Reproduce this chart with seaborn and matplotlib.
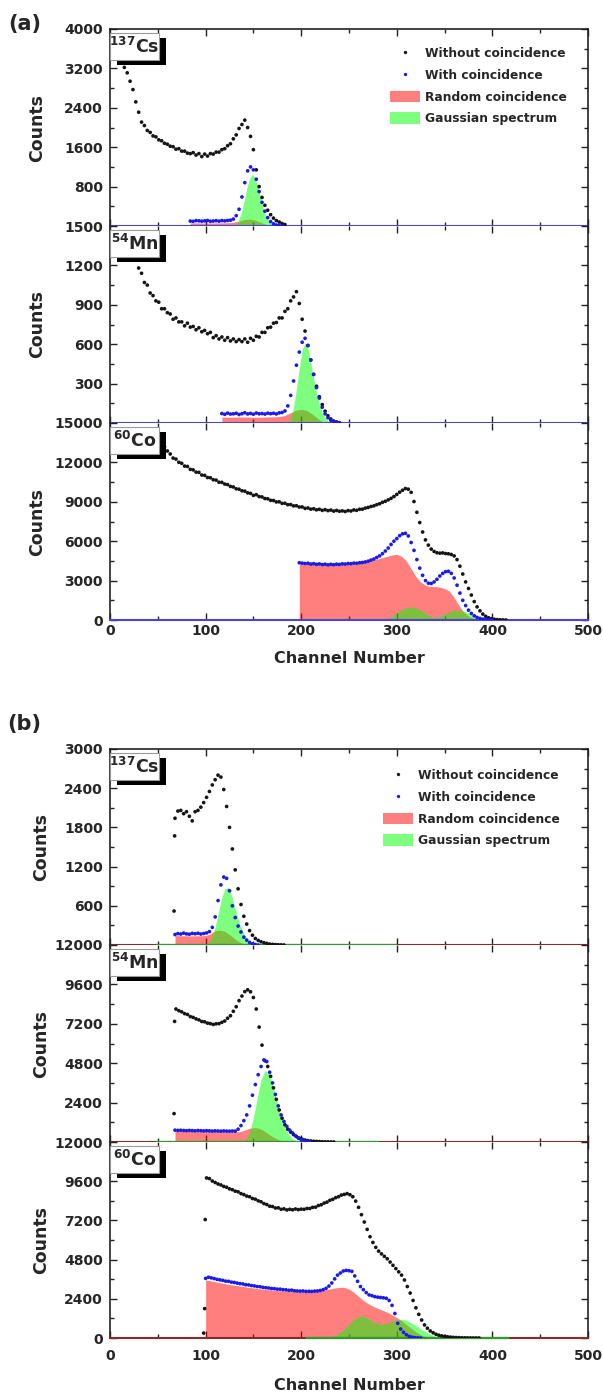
import numpy as np
import pandas as pd
import matplotlib
matplotlib.use("Agg")
import matplotlib.pyplot as plt
import seaborn as sns
from matplotlib.patches import Rectangle, Patch
from matplotlib.lines import Line2D
from matplotlib.ticker import MultipleLocator, FuncFormatter

# ------------------------------------------------------------------ data
STEP = 3  # channel spacing of the dotted spectra

# ---- (a) 137Cs
a_cs_without_start = 9
a_cs_without = [3420, 3360, 3220, 3110, 2940, 2770, 2520, 2310, 2110, 2040, 1940, 1900, 1830, 1810,
                1750, 1730, 1680, 1660, 1620, 1610, 1560, 1570, 1520, 1520, 1480, 1470, 1490, 1440,
                1470, 1410, 1460, 1420, 1470, 1460, 1500, 1500, 1550, 1570, 1630, 1670, 1770, 1850,
                1980, 2060, 2150, 2000, 1820, 1550, 1140, 800, 580, 420, 320, 230, 160, 110, 80, 50, 30]
a_cs_with_start = 84
a_cs_with = [100, 95, 110, 105, 98, 104, 112, 96, 101, 108, 99, 110, 104, 112, 118, 140, 210, 340,
             590, 880, 1120, 1200, 1140, 950, 700, 480, 300, 170, 90, 45, 20, 8, 0]
a_cs_random_x = [84, 90, 100, 110, 120, 128, 135, 140, 145, 150, 155, 160, 165, 170]
a_cs_random = [65, 62, 60, 62, 64, 70, 100, 130, 140, 130, 95, 55, 20, 0]
a_cs_gauss_x = [128, 131, 134, 137, 140, 143, 146, 149, 152, 155, 158, 161, 164, 167, 170, 173, 176]
a_cs_gauss = [0, 30, 100, 250, 480, 760, 970, 1050, 960, 760, 520, 310, 160, 70, 25, 5, 0]

# ---- (a) 54Mn
a_mn_without_start = 24
a_mn_without = [1310, 1250, 1180, 1140, 1070, 1050, 990, 970, 930, 920, 870, 870, 840, 830, 790, 800,
                770, 770, 740, 760, 730, 735, 710, 725, 695, 705, 680, 690, 650, 665, 640, 655, 630,
                650, 625, 640, 620, 635, 620, 640, 615, 645, 630, 660, 655, 690, 690, 725, 730, 760,
                765, 800, 800, 850, 870, 930, 960, 1000, 910, 790, 700, 590, 480, 370, 280, 200, 140,
                90, 55, 30, 15, 8, 3]
a_mn_with_start = 117
a_mn_with = [72, 66, 75, 68, 70, 74, 65, 71, 78, 69, 73, 67, 76, 70, 72, 68, 75, 71, 74, 69, 77, 80,
             92, 130, 210, 320, 440, 540, 615, 645, 590, 480, 370, 270, 190, 120, 70, 40, 20, 10, 3, 0]
a_mn_random_x = [117, 125, 135, 145, 155, 165, 175, 182, 188, 194, 200, 206, 212, 218, 224]
a_mn_random = [45, 44, 46, 45, 44, 46, 48, 55, 75, 95, 105, 95, 65, 30, 0]
a_mn_gauss_x = [186, 189, 192, 195, 198, 201, 204, 207, 210, 213, 216, 219, 222, 225, 228, 231, 234]
a_mn_gauss = [0, 40, 120, 260, 420, 560, 610, 570, 460, 340, 230, 140, 80, 40, 15, 5, 0]

# ---- (a) 60Co
a_co_without_start = 45
a_co_without = [14100, 13880, 13700, 13380, 13190, 12870, 12640, 12330, 12250, 12010, 11930, 11720,
                11690, 11470, 11430, 11260, 11240, 11040, 11010, 10850, 10830, 10680, 10650, 10490,
                10480, 10350, 10310, 10170, 10130, 9990, 9960, 9840, 9810, 9680, 9640, 9490, 9540,
                9400, 9370, 9250, 9230, 9110, 9100, 8990, 9000, 8880, 8890, 8780, 8790, 8690, 8700,
                8600, 8610, 8500, 8530, 8440, 8470, 8390, 8430, 8350, 8400, 8330, 8370, 8290, 8340,
                8280, 8310, 8260, 8330, 8300, 8380, 8350, 8430, 8440, 8520, 8570, 8640, 8690, 8780,
                8850, 8960, 9040, 9150, 9260, 9400, 9560, 9730, 9880, 10010, 9960, 9720, 9020, 8200,
                7420, 6700, 6100, 5700, 5400, 5220, 5120, 5090, 5110, 5060, 5040, 4990, 4880, 4600,
                4100, 3500, 2900, 2400, 1900, 1400, 1000, 700, 450, 280, 170, 100, 60, 30, 15, 5, 0]
a_co_with_start = 198
a_co_with = [4360, 4330, 4300, 4320, 4260, 4290, 4240, 4270, 4220, 4250, 4200, 4240, 4210, 4250,
             4230, 4280, 4260, 4300, 4290, 4330, 4320, 4360, 4380, 4420, 4480, 4560, 4640, 4760,
             4880, 5050, 5250, 5480, 5750, 6000, 6200, 6420, 6560, 6600, 6400, 5900, 5300, 4600,
             3950, 3400, 3000, 2800, 2780, 2900, 3100, 3350, 3550, 3680, 3710, 3550, 3200, 2650,
             2050, 1500, 1100, 750, 500, 320, 200, 120, 70, 35, 15, 5]
a_co_random_x = [198, 205, 210, 215, 220, 225, 230, 235, 240, 245, 250, 255, 260, 265, 270, 275, 280,
                 285, 290, 295, 300, 305, 310, 315, 320, 325, 330, 335, 340, 345, 350, 355, 360, 365,
                 370, 375, 380, 385, 390]
a_co_random = [4300, 4280, 4250, 4230, 4200, 4200, 4200, 4220, 4250, 4280, 4300, 4320, 4350, 4400,
               4480, 4560, 4650, 4750, 4850, 4950, 5000, 4850, 4500, 3900, 3300, 2900, 2650, 2560,
               2550, 2500, 2400, 2200, 1700, 1100, 600, 300, 120, 40, 0]
a_co_gauss_x = [280, 285, 290, 295, 300, 305, 310, 315, 320, 325, 330, 335, 340, 345, 350, 355, 360,
                365, 370, 375, 380, 385, 390, 395, 400]
a_co_gauss = [0, 30, 120, 300, 550, 800, 950, 1000, 930, 750, 520, 300, 170, 280, 470, 640, 730, 750,
              680, 520, 330, 170, 70, 20, 0]

# ---- (b) 137Cs
b_cs_edge_x = [67, 67.6]
b_cs_edge = [520, 1670]
b_cs_without_start = 68
b_cs_without = [1940, 2050, 2060, 2010, 2040, 1970, 1900, 2040, 2060, 2110, 2180, 2260, 2350, 2450,
                2530, 2600, 2570, 2380, 2120, 1800, 1470, 1150, 860, 620, 440, 320, 220, 150, 100, 70,
                50, 35, 25, 15, 10, 6, 4, 2, 0]
b_cs_with_start = 68
b_cs_with = [160, 175, 168, 182, 170, 165, 178, 172, 180, 168, 176, 185, 205, 270, 430, 680, 920, 1040,
             1020, 830, 600, 420, 290, 200, 120, 75, 40, 18, 8, 0]
b_cs_random_x = [68, 75, 85, 95, 100, 105, 110, 115, 120, 125, 130, 135, 140, 145]
b_cs_random = [145, 142, 140, 142, 145, 170, 220, 230, 210, 160, 100, 50, 15, 0]
b_cs_gauss_x = [100, 104, 108, 112, 116, 120, 124, 128, 132, 136, 140, 144, 148, 152, 156]
b_cs_gauss = [0, 50, 170, 400, 680, 860, 880, 720, 500, 310, 170, 80, 30, 8, 0]
b_cs_gauss_span = [48, 300]

# ---- (b) 54Mn
b_mn_edge_x = [67, 67.6]
b_mn_edge = [1730, 7345]
b_mn_without_start = 69
b_mn_without = [8100, 8000, 7930, 7820, 7770, 7640, 7590, 7500, 7440, 7340, 7320, 7240, 7210, 7160,
                7200, 7210, 7290, 7370, 7540, 7690, 7960, 8240, 8610, 8890, 9160, 9270, 9150, 8800,
                8100, 7000, 5900, 4950, 4600, 4000, 3300, 2600, 1950, 1450, 1050, 780, 600, 450, 330,
                240, 170, 120, 85, 60, 45, 35, 25, 18, 12, 8, 4, 0]
b_mn_with_start = 68
b_mn_with = [720, 705, 715, 700, 690, 705, 695, 680, 700, 690, 675, 690, 680, 665, 680, 670, 660, 675,
             665, 660, 670, 660, 780, 1000, 1300, 1650, 2200, 2850, 3500, 4100, 4600, 5000, 4900,
             4250, 3600, 2900, 2200, 1650, 1250, 950, 720, 550, 380, 230, 130, 60, 20, 0]
b_mn_random_x = [68, 80, 95, 110, 125, 135, 140, 145, 150, 155, 160, 165, 170, 175, 180, 185, 190]
b_mn_random = [650, 645, 640, 635, 625, 620, 700, 820, 880, 850, 720, 520, 330, 180, 80, 20, 0]
b_mn_gauss_x = [138, 142, 146, 150, 154, 158, 162, 166, 170, 174, 178, 182, 186, 190, 194, 198, 202]
b_mn_gauss = [0, 150, 600, 1500, 2700, 3800, 4350, 4200, 3500, 2600, 1700, 1000, 550, 250, 100, 30, 0]
b_mn_gauss_span = [48, 281]

# ---- (b) 60Co
b_co_edge_x = [98, 99, 99.6]
b_co_edge = [300, 1800, 7250]
b_co_without_start = 101
b_co_without = [9800, 9760, 9610, 9520, 9430, 9370, 9280, 9230, 9130, 9080, 8990, 8950, 8840, 8780,
                8690, 8650, 8540, 8500, 8400, 8340, 8230, 8170, 8070, 8050, 7960, 7970, 7880, 7910,
                7840, 7880, 7850, 7900, 7860, 7890, 7880, 7930, 7930, 8000, 8010, 8110, 8160, 8260,
                8320, 8430, 8490, 8590, 8650, 8750, 8790, 8840, 8770, 8650, 8380, 8000, 7550, 7100,
                6650, 6200, 5850, 5550, 5320, 5150, 5000, 4850, 4650, 4450, 4250, 4050, 3850, 3550,
                3150, 2750, 2300, 1850, 1450, 1100, 800, 600, 430, 320, 230, 170, 130, 100, 75, 55,
                40, 30, 22, 15, 10, 7, 5, 3, 2, 0]
b_co_with_start = 100
b_co_with = [3650, 3720, 3680, 3640, 3590, 3560, 3530, 3480, 3470, 3420, 3400, 3360, 3330, 3310, 3260,
             3250, 3210, 3190, 3150, 3140, 3100, 3080, 3060, 3030, 3020, 2990, 2990, 2960, 2950,
             2920, 2930, 2890, 2880, 2870, 2880, 2850, 2860, 2850, 2870, 2880, 2910, 2960, 3040,
             3180, 3370, 3620, 3850, 3980, 4100, 4140, 4120, 4080, 3800, 3470, 3150, 2960, 2780,
             2640, 2590, 2530, 2500, 2480, 2460, 2430, 2300, 2000, 1500, 900, 550, 350, 200, 100,
             50, 20, 8, 0]
b_co_random_x = [100, 105, 110, 115, 120, 125, 130, 135, 140, 145, 150, 155, 160, 165, 170, 175, 180,
                 185, 190, 195, 200, 205, 210, 215, 220, 225, 230, 235, 240, 245, 250, 255, 260, 265,
                 270, 275, 280, 285, 290, 295, 300, 305, 310, 315, 320, 325, 330, 335, 340]
b_co_random = [3550, 3500, 3440, 3380, 3330, 3280, 3230, 3190, 3150, 3100, 3060, 3020, 2990, 2960,
               2930, 2910, 2890, 2870, 2850, 2840, 2830, 2830, 2840, 2860, 2900, 2950, 3000, 3060,
               3100, 3100, 3000, 2800, 2550, 2300, 2100, 1950, 1820, 1700, 1580, 1420, 1250, 1050,
               820, 600, 380, 200, 80, 20, 0]
b_co_gauss_x = [220, 225, 230, 235, 240, 245, 250, 255, 260, 265, 270, 275, 280, 285, 290, 295, 300,
                305, 310, 315, 320, 325, 330, 335, 340, 345, 350, 355]
b_co_gauss = [0, 20, 60, 150, 300, 550, 850, 1150, 1330, 1350, 1200, 1000, 880, 850, 900, 1030, 1130,
              1150, 1080, 930, 750, 560, 380, 230, 120, 50, 15, 0]
b_co_gauss_span = [205, 417]

legend_labels = ["Without coincidence", "With coincidence", "Random coincidence", "Gaussian spectrum"]

# ------------------------------------------------------------------ style
sns.set_theme(style="ticks")
plt.rcParams["font.family"] = ["DejaVu Sans"]
plt.rcParams["font.weight"] = "bold"
plt.rcParams["axes.labelweight"] = "bold"
plt.rcParams["mathtext.fontset"] = "custom"
plt.rcParams["mathtext.rm"] = "DejaVu Sans:bold"
plt.rcParams["mathtext.bf"] = "DejaVu Sans:bold"

C_WITHOUT = "#151515"
C_WITH = "#1a1aee"
C_RED = (1.0, 0.0, 0.0, 0.5)
C_GREEN = (0.0, 1.0, 0.0, 0.5)

W, H = 603, 1396
fig = plt.figure(figsize=(W / 100, H / 100), dpi=100, facecolor="white")

panels = [
    dict(g="a", rows=(29, 226), ymax=4000, ymaj=800, iso="137", el="Cs", legend=True, bottom=False,
         wo=(a_cs_without_start, a_cs_without, [], []), wi=(a_cs_with_start, a_cs_with),
         rnd=(a_cs_random_x, a_cs_random), gau=(a_cs_gauss_x, a_cs_gauss), span=None),
    dict(g="a", rows=(226, 423), ymax=1500, ymaj=300, iso="54", el="Mn", legend=False, bottom=False,
         wo=(a_mn_without_start, a_mn_without, [], []), wi=(a_mn_with_start, a_mn_with),
         rnd=(a_mn_random_x, a_mn_random), gau=(a_mn_gauss_x, a_mn_gauss), span=None),
    dict(g="a", rows=(423, 620), ymax=15000, ymaj=3000, iso="60", el="Co", legend=False, bottom=True,
         wo=(a_co_without_start, a_co_without, [], []), wi=(a_co_with_start, a_co_with),
         rnd=(a_co_random_x, a_co_random), gau=(a_co_gauss_x, a_co_gauss), span=None),
    dict(g="b", rows=(749, 945), ymax=3000, ymaj=600, iso="137", el="Cs", legend=True, bottom=False,
         wo=(b_cs_without_start, b_cs_without, b_cs_edge_x, b_cs_edge), wi=(b_cs_with_start, b_cs_with),
         rnd=(b_cs_random_x, b_cs_random), gau=(b_cs_gauss_x, b_cs_gauss), span=b_cs_gauss_span),
    dict(g="b", rows=(945, 1142), ymax=12000, ymaj=2400, iso="54", el="Mn", legend=False, bottom=False,
         wo=(b_mn_without_start, b_mn_without, b_mn_edge_x, b_mn_edge), wi=(b_mn_with_start, b_mn_with),
         rnd=(b_mn_random_x, b_mn_random), gau=(b_mn_gauss_x, b_mn_gauss), span=b_mn_gauss_span),
    dict(g="b", rows=(1142, 1338), ymax=12000, ymaj=2400, iso="60", el="Co", legend=False, bottom=True,
         wo=(b_co_without_start, b_co_without, b_co_edge_x, b_co_edge), wi=(b_co_with_start, b_co_with),
         rnd=(b_co_random_x, b_co_random), gau=(b_co_gauss_x, b_co_gauss), span=b_co_gauss_span),
]

X0, X1 = 110, 588
for p in panels:
    yt, yb = p["rows"]
    ax = fig.add_axes([X0 / W, 1 - yb / H, (X1 - X0) / W, (yb - yt) / H])
    ax.set_facecolor("white")

    # areas
    ax.fill_between(p["rnd"][0], 0, p["rnd"][1], color=C_RED, lw=0, zorder=1)
    ax.fill_between(p["gau"][0], 0, p["gau"][1], color=C_GREEN, lw=0, zorder=1.5)

    # dots
    s0, vals, ex, ey = p["wo"]
    xw = np.concatenate([np.asarray(ex, float), s0 + STEP * np.arange(len(vals))])
    yw = np.concatenate([np.asarray(ey, float), np.asarray(vals, float)])
    s1, vals1 = p["wi"]
    xc = s1 + STEP * np.arange(len(vals1))
    df = pd.DataFrame({
        "channel": np.concatenate([xw, xc]),
        "counts": np.concatenate([yw, np.asarray(vals1, float)]),
        "series": [legend_labels[0]] * len(xw) + [legend_labels[1]] * len(xc),
    })
    sns.scatterplot(data=df, x="channel", y="counts", hue="series",
                    palette={legend_labels[0]: C_WITHOUT, legend_labels[1]: C_WITH},
                    s=7, linewidth=0, legend=False, ax=ax, zorder=3)

    ax.set_xlim(0, 500)
    ax.set_ylim(0, p["ymax"])
    ax.xaxis.set_major_locator(MultipleLocator(100))
    ax.xaxis.set_minor_locator(MultipleLocator(50))
    ax.yaxis.set_major_locator(MultipleLocator(p["ymaj"]))
    ax.yaxis.set_minor_locator(MultipleLocator(p["ymaj"] / 2))
    bottom = p["bottom"]
    ax.yaxis.set_major_formatter(FuncFormatter(
        lambda v, pos, b=bottom: "" if (abs(v) < 1e-9 and not b) else f"{int(round(v))}"))
    ax.tick_params(which="both", direction="in", top=True, right=True, width=1.0, color="#222222")
    ax.tick_params(which="major", length=5)
    ax.tick_params(which="minor", length=3)
    ax.tick_params(axis="y", labelsize=10, pad=5)
    ax.tick_params(axis="x", labelsize=10, labelbottom=bottom, pad=3 if p["g"] == "a" else 8)
    for lab in ax.get_xticklabels() + ax.get_yticklabels():
        lab.set_fontweight("bold")

    for sp in ax.spines.values():
        sp.set_linewidth(1.2)
        sp.set_color("#222222")
    if p["el"] != "Cs":
        ax.spines["top"].set_visible(False)
    if p["g"] == "a":
        ax.spines["bottom"].set_color("#4a44d4")
        ax.spines["bottom"].set_linewidth(1.5)
    else:
        ax.spines["bottom"].set_color("#8c2a2a")
        ax.spines["bottom"].set_linewidth(1.5)
        ax.hlines(0, p["span"][0], p["span"][1], color="#2f9a2f", lw=1.6, zorder=2.6, clip_on=False)

    ax.set_ylabel("Counts", fontsize=12.5, fontweight="bold")
    ax.yaxis.set_label_coords(-0.133 if p["g"] == "a" else -0.125, 0.5)
    if bottom:
        ax.set_xlabel("Channel Number", fontsize=11.5, fontweight="bold")
        ax.xaxis.set_label_coords(0.5, -0.155 if p["g"] == "a" else -0.205)
    else:
        ax.set_xlabel("")

    # isotope label box with drop shadow
    hb = 27 / (yb - yt)
    top = 1 - 4 / (yb - yt)
    wb = 49 / (X1 - X0)
    ax.add_patch(Rectangle((0.0 + 7 / (X1 - X0), top - hb - 5 / (yb - yt)), wb, hb,
                           transform=ax.transAxes, fc="black", ec="black", lw=0, zorder=8))
    ax.add_patch(Rectangle((0.0, top - hb), wb, hb, transform=ax.transAxes,
                           fc="white", ec="#9a9a9a", lw=0.8, zorder=9))
    ax.text(wb / 2, top - hb / 2, rf"$^{{{p['iso']}}}$" + p["el"], transform=ax.transAxes,
            ha="center", va="center", fontsize=12.5, fontweight="bold", zorder=10)

    if p["legend"]:
        handles = [
            Line2D([], [], ls="", marker="o", markersize=2.4, color=C_WITHOUT, mew=0),
            Line2D([], [], ls="", marker="o", markersize=2.4, color=C_WITH, mew=0),
            Patch(facecolor=C_RED, edgecolor="none"),
            Patch(facecolor=C_GREEN, edgecolor="none"),
        ]
        ax_anchor = (0.585, 0.909) if p["g"] == "a" else (0.571, 0.898)
        ax.legend(handles, legend_labels, loc="upper left", bbox_to_anchor=ax_anchor, frameon=False,
                  borderpad=0, borderaxespad=0, handlelength=2.5, handleheight=1.1,
                  handletextpad=0.4, labelspacing=0.72, prop=dict(weight="bold", size=8.8))

fig.text(25 / W, 1 - 24 / H, "(a)", fontsize=15, fontweight="bold", ha="center", va="center")
fig.text(24 / W, 1 - 724 / H, "(b)", fontsize=15, fontweight="bold", ha="center", va="center")

fig.savefig("out.png", dpi=100, facecolor="white")
